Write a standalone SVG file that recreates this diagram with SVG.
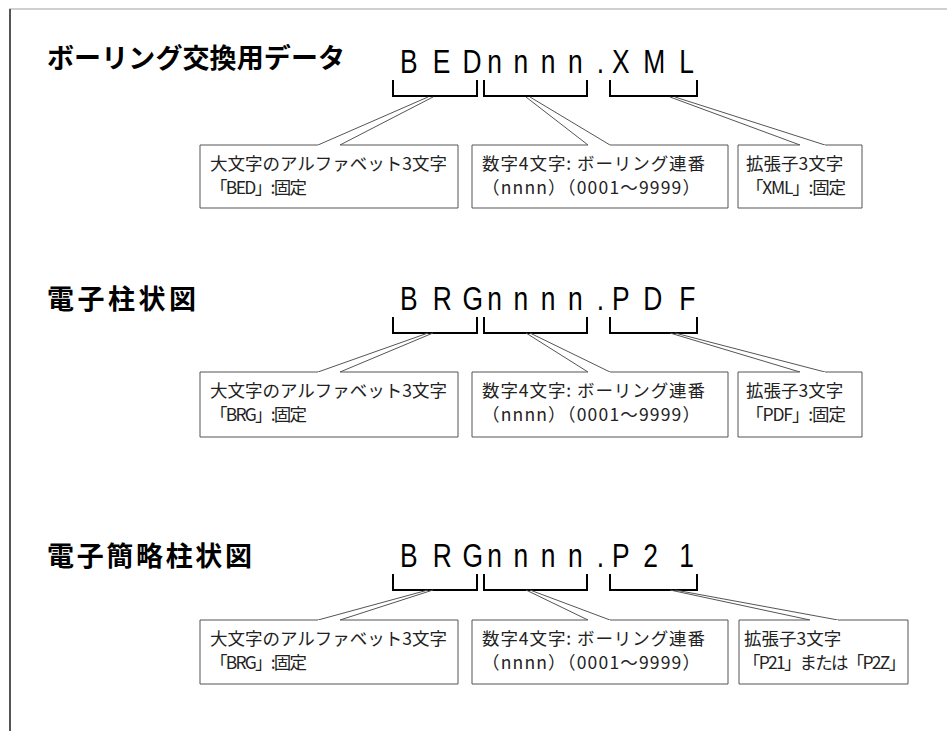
<svg xmlns="http://www.w3.org/2000/svg" width="947" height="731" viewBox="0 0 947 731">
<style>
.title{font-family:"Noto Sans CJK JP","Liberation Sans",sans-serif;font-weight:700;font-size:27px;fill:#000}
.code{font-family:"Liberation Sans",sans-serif;font-size:33px;fill:#000}
.lbl{font-family:"Noto Sans CJK JP","Liberation Sans",sans-serif;font-size:17.5px;fill:#222}
.box{fill:#fff;stroke:#555;stroke-width:1}
.brk{fill:none;stroke:#000;stroke-width:2}
.lead{stroke:#555;stroke-width:1;fill:none}
</style>
<rect width="947" height="731" fill="#fff"/>
<line x1="9" y1="9" x2="947" y2="9" stroke="#d0d0d0" stroke-width="2"/>
<line x1="10" y1="9" x2="10" y2="731" stroke="#555" stroke-width="2"/>

<g id="sec1">
<text class="title" x="47" y="68" textLength="298">ボーリング交換用データ</text>
<text class="code" transform="scale(0.8 1)" x="500 541 578 609 642 676 710 746 765 804 849" y="73">BEDnnnn.XML</text>
<path class="brk" d="M393,80V96H477V80M484,80V96H587V80M610,80V96H697V80"/>
</g>
<g id="sec2">
<text class="title" x="47" y="309" textLength="149">電子柱状図</text>
<text class="code" transform="scale(0.8 1)" x="500 541 578 609 642 676 710 746 765 804 849" y="310">BRGnnnn.PDF</text>
<path class="brk" d="M393,317V333H477V317M484,317V333H587V317M610,317V333H697V317"/>
</g>
<g id="sec3">
<text class="title" x="47" y="566" textLength="205">電子簡略柱状図</text>
<text class="code" transform="scale(0.8 1)" x="500 541 578 609 642 676 710 746 765 804 849" y="567">BRGnnnn.P21</text>
<path class="brk" d="M393,574V590H477V574M484,574V590H587V574M610,574V590H697V574"/>
</g>

<g id="connectors">
<path class="lead" d="M318,145L428,97M340,145L433,97M588,145L526,97M610,145L530,97M800,145L670,97M825,145L675,97"/>
<path class="lead" d="M318,372L428,333M340,372L433,333M588,372L526,333M610,372L530,333M800,372L670,333M825,372L675,333"/>
<path class="lead" d="M318,620L428,590M340,620L433,590M588,620L526,590M610,620L530,590M810,620L670,590M838,620L675,590"/>
</g>

<g id="n1a"><path class="box" d="M340,145H458V208H200V145H318"/>
<text class="lbl" x="210" y="170" textLength="237">大文字のアルファベット3文字</text><text class="lbl" x="210" y="194" textLength="97">「BED」:固定</text></g>
<g id="n1b"><path class="box" d="M610,145H728V208H472V145H588"/>
<text class="lbl" x="482" y="170" textLength="223">数字4文字: ボーリング連番</text><text class="lbl" x="482" y="194" textLength="218">（nnnn）（0001～9999）</text></g>
<g id="n1c"><path class="box" d="M825,145H862V208H738V145H800"/>
<text class="lbl" x="746" y="170">拡張子3文字</text><text class="lbl" x="746" y="194" textLength="100">「XML」:固定</text></g>

<g id="n2a"><path class="box" d="M340,372H458V437H200V372H318"/>
<text class="lbl" x="210" y="397" textLength="237">大文字のアルファベット3文字</text><text class="lbl" x="210" y="421" textLength="97">「BRG」:固定</text></g>
<g id="n2b"><path class="box" d="M610,372H728V437H472V372H588"/>
<text class="lbl" x="482" y="397" textLength="223">数字4文字: ボーリング連番</text><text class="lbl" x="482" y="421" textLength="218">（nnnn）（0001～9999）</text></g>
<g id="n2c"><path class="box" d="M825,372H862V437H738V372H800"/>
<text class="lbl" x="746" y="397">拡張子3文字</text><text class="lbl" x="746" y="421" textLength="100">「PDF」:固定</text></g>

<g id="n3a"><path class="box" d="M340,620H458V684H200V620H318"/>
<text class="lbl" x="210" y="645" textLength="237">大文字のアルファベット3文字</text><text class="lbl" x="210" y="669" textLength="97">「BRG」:固定</text></g>
<g id="n3b"><path class="box" d="M610,620H728V684H472V620H588"/>
<text class="lbl" x="482" y="645" textLength="223">数字4文字: ボーリング連番</text><text class="lbl" x="482" y="669" textLength="218">（nnnn）（0001～9999）</text></g>
<g id="n3c"><path class="box" d="M838,620H908V684H739V620H810"/>
<text class="lbl" x="744" y="645">拡張子3文字</text><text class="lbl" x="743" y="669" textLength="163">「P21」または「P2Z」</text></g>
</svg>
